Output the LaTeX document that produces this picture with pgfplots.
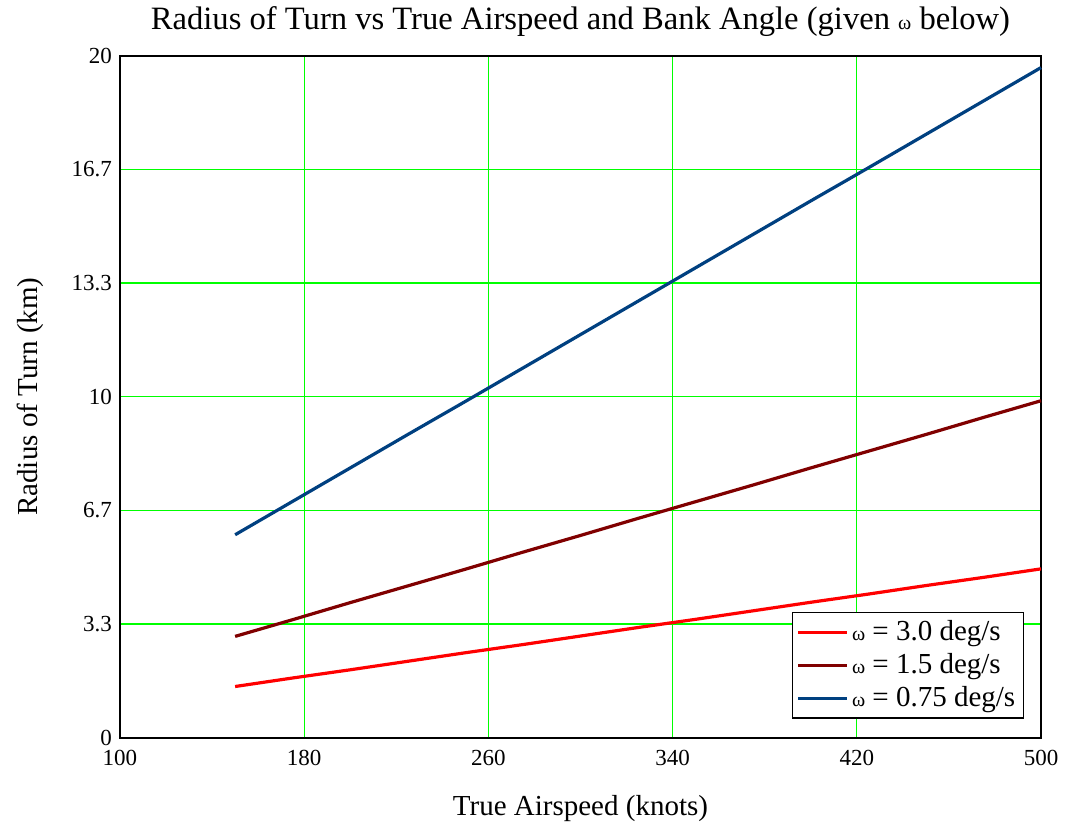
\documentclass[border=0pt]{standalone}
\usepackage{fontspec}
\setmainfont{Liberation Serif}
\usepackage{pgfplots}
\pgfplotsset{compat=1.18}
\definecolor{gridgreen}{RGB}{0,255,0}
\definecolor{cred}{RGB}{255,0,0}
\definecolor{cbrown}{RGB}{128,0,0}
\definecolor{cblue}{RGB}{0,64,128}
\newcommand{\om}{{\fontsize{10}{11}\selectfont ω}}
\begin{document}
\begin{tikzpicture}
\begin{axis}[
  name=ax,
  scale only axis,
  width=460.5pt, height=341pt,
  xmin=100, xmax=500, ymin=0, ymax=20,
  xtick={100,180,260,340,420,500},
  ytick={0,3.3333,6.6667,10,13.3333,16.6667,20},
  yticklabels={0,3.3,6.7,10,13.3,16.7,20},
  /pgf/number format/assume math mode=true,
  tick label style={font=\fontsize{11.5}{12}\selectfont},
  xticklabel style={yshift=-2.5pt},
  yticklabel style={xshift=-0.5pt},
  grid=major,
  major grid style={gridgreen, line width=0.6pt},
  axis line style={black, line width=0.9pt},
  tick style={draw=none},
  legend style={at={(rel axis cs:0.9815,0.028)}, anchor=south east,
    draw=black, line width=0.7pt, font=\fontsize{14.5}{16}\selectfont,
    row sep=1pt, inner xsep=2pt, inner ysep=2pt},
  legend cell align=left,
  legend image code/.code={\draw[#1, line width=1.5pt] (0cm,0cm) -- (0.85cm,0cm);},
  clip=false,
]
\addplot[cred, line width=1.6pt] coordinates {
(150,1.50) (175,1.75) (200,1.99) (225,2.24) (250,2.49) (275,2.73) (300,2.98) (325,3.23) (350,3.47) (375,3.72) (400,3.97) (425,4.21) (450,4.46) (475,4.70) (500,4.95)};
\addlegendentry{\om\ = 3.0 deg/s}
\addplot[cbrown, line width=1.6pt] coordinates {
(150,2.97) (175,3.46) (200,3.96) (225,4.45) (250,4.94) (275,5.44) (300,5.93) (325,6.43) (350,6.92) (375,7.41) (400,7.91) (425,8.40) (450,8.89) (475,9.39) (500,9.88)};
\addlegendentry{\om\ = 1.5 deg/s}
\addplot[cblue, line width=1.6pt] coordinates {
(150,5.95) (175,6.93) (200,7.91) (225,8.89) (250,9.86) (275,10.84) (300,11.82) (325,12.80) (350,13.78) (375,14.76) (400,15.74) (425,16.71) (450,17.69) (475,18.67) (500,19.65)};
\addlegendentry{\om\ = 0.75 deg/s}
\end{axis}
\node[font=\fontsize{16.3}{18}\selectfont] at ([yshift=17pt]ax.north) {Radius of Turn vs True Airspeed and Bank Angle (given \om\ below)};
\node[font=\fontsize{14.5}{16}\selectfont] at ([yshift=-35.5pt]ax.south) {True Airspeed (knots)};
\node[font=\fontsize{14.5}{16}\selectfont, rotate=90] at ([xshift=-45pt]ax.west) {Radius of Turn (km)};
\path[use as bounding box] ([xshift=-60pt,yshift=-45.5pt]ax.south west) rectangle ([xshift=12pt,yshift=27.5pt]ax.north east);
\end{tikzpicture}
\end{document}
